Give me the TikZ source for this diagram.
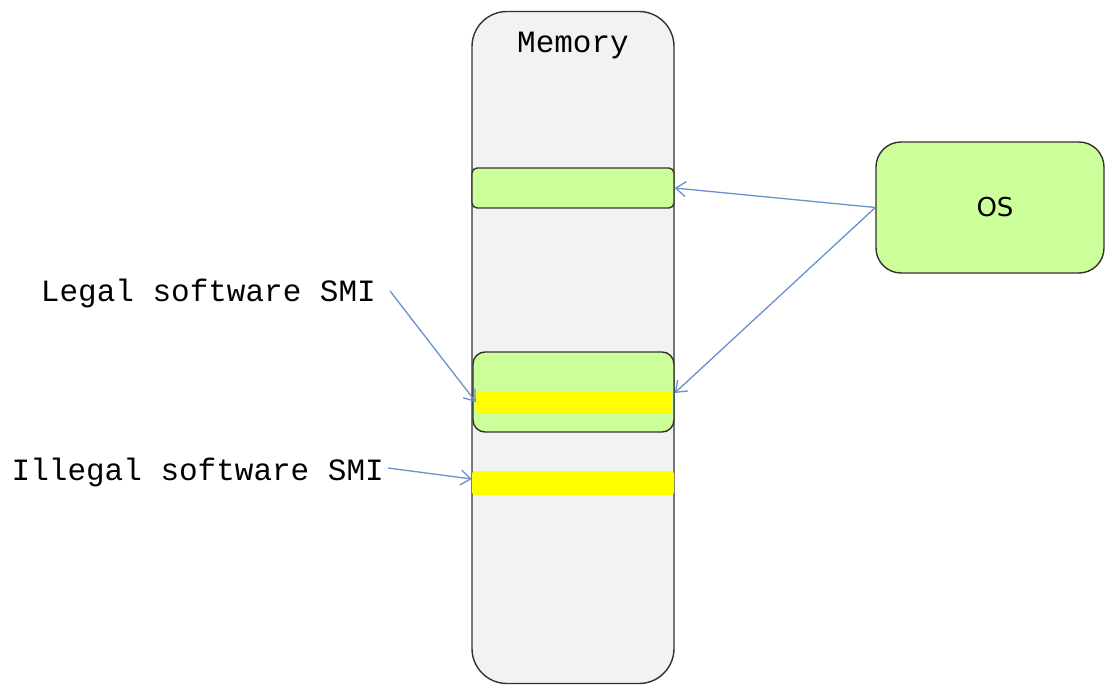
\documentclass[tikz,border=0pt]{standalone}
\usepackage{fontspec}
\setmainfont{Liberation Mono}
\newfontfamily\osfont{DejaVu Sans}
\usetikzlibrary{arrows.meta}
\definecolor{memfill}{RGB}{242,242,242}
\definecolor{lgreen}{RGB}{204,255,153}
\definecolor{ylw}{RGB}{255,255,0}
\definecolor{arrowblue}{RGB}{105,145,205}
\definecolor{bordergray}{RGB}{50,50,50}
\tikzset{
  box/.style={draw=bordergray, line width=1.4pt, rectangle, inner sep=0pt},
  bar/.style={rectangle, fill=ylw, inner sep=0pt},
  conn/.style={draw=arrowblue, line width=1.3pt, -{Straight Barb[length=10pt,width=15pt,line width=1.3pt]}},
  lbl/.style={inner sep=2pt, font=\fontsize{31}{36}\selectfont},
}
\begin{document}
\begin{tikzpicture}[x=1pt,y=-1pt]
\useasboundingbox (0,0) rectangle (1106,685);
% memory column
\node[box, fill=memfill, rounded corners=35pt, minimum width=202pt, minimum height=672pt] (mem) at (573,347.5) {};
\node[lbl] (memlbl) at (573,46) {Memory};
% top green block
\node[box, fill=lgreen, rounded corners=5pt, minimum width=202pt, minimum height=40pt] (top) at (573,188) {};
% middle green block
\node[box, fill=lgreen, rounded corners=12pt, minimum width=201pt, minimum height=80pt] (mid) at (573.5,392) {};
\node[bar, rounded corners=3pt, minimum width=196pt, minimum height=22pt] (legal) at (574,402) {};
% illegal bar
\node[bar, rounded corners=3pt, minimum width=202pt, minimum height=24pt] (illegal) at (573,483) {};
% OS box
\node[box, fill=lgreen, rounded corners=25pt, minimum width=228pt, minimum height=131pt] (os) at (990,207.5) {};
\node[font=\osfont\fontsize{26}{30}\selectfont] (oslbl) at (995,207) {OS};
% labels
\node[lbl, anchor=east] (legallbl) at (378,293) {Legal\hspace{0.6em}software\hspace{0.6em}SMI};
\node[lbl, anchor=east] (illegallbl) at (386,472) {Illegal\hspace{0.6em}software\hspace{0.6em}SMI};
% connectors
\draw[conn] (os.west) -- (top.east);
\draw[conn] (os.west) -- ([yshift=-1pt]mid.east);
\draw[conn] ([xshift=12pt,yshift=2pt]legallbl.east) -- (legal.west);
\draw[conn] ([xshift=2pt,yshift=4pt]illegallbl.east) -- ([yshift=4pt]illegal.west);
\end{tikzpicture}
\end{document}
